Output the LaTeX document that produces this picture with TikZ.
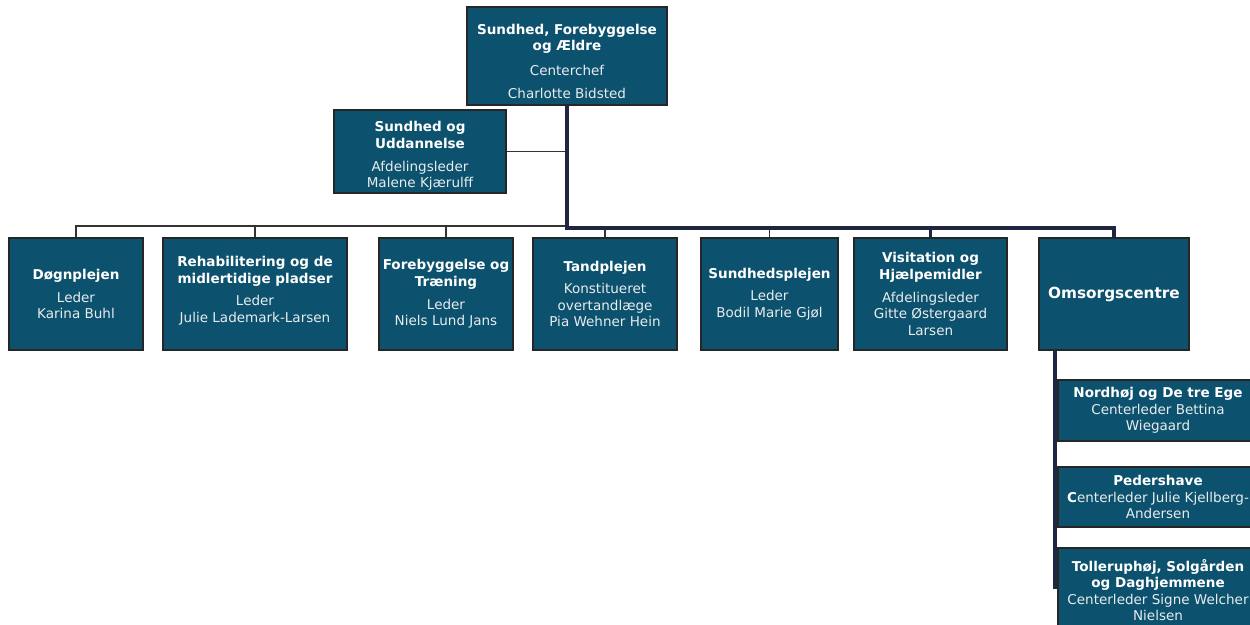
\documentclass[tikz,border=0pt]{standalone}
\usepackage{fontspec}
\setmainfont{DejaVu Sans}
\usetikzlibrary{positioning}
\definecolor{boxteal}{RGB}{12,81,109}
\definecolor{busnavy}{RGB}{30,38,64}
\definecolor{leadgrey}{RGB}{232,236,238}
\newcommand{\hd}[1]{\textbf{\color{white}#1}}

\begin{document}
\begin{tikzpicture}[x=0.02cm,y=-0.02cm,
	orgbox/.style={draw=black!85,line width=0.7pt,fill=boxteal,text=leadgrey,
		align=center,inner sep=1pt,font=\fontsize{7.7}{9.4}\selectfont},
	boxsize/.style 2 args={minimum width=#1*0.02cm,minimum height=#2*0.02cm},
	thinline/.style={draw=black!80,line width=0.8pt},
	thickline/.style={draw=busnavy,line width=2pt}]
\useasboundingbox (0,0) rectangle (1250,625);
\clip (0,0) rectangle (1250,625);

% top level
\node[orgbox,boxsize={200}{98}] (chef) at (567,56)
	{\rule{0pt}{12pt}\hd{Sundhed, Forebyggelse}\\\hd{og Ældre}\\[4.5pt] Centerchef\\[4pt] Charlotte Bidsted};
\node[orgbox,boxsize={172}{83}] (uddan) at (420,151.5)
	{\rule{0pt}{11pt}\hd{Sundhed og}\\\hd{Uddannelse}\\[3.5pt] Afdelingsleder\\ Malene Kjærulff};

% second row
\node[orgbox,boxsize={134}{112}] (doegn) at (76,294)
	{\hd{Døgnplejen}\\[3.5pt] Leder\\ Karina Buhl};
\node[orgbox,boxsize={184}{112}] (rehab) at (255,294)
	{\hd{Rehabilitering og de}\\\hd{midlertidige pladser}\\[3.5pt] Leder\\ Julie Lademark-Larsen\\[-4pt]};
\node[orgbox,boxsize={134}{112}] (forebyg) at (446,294)
	{\hd{Forebyggelse og}\\\hd{Træning}\\[3.5pt] Leder\\ Niels Lund Jans};
\node[orgbox,boxsize={144}{112}] (tand) at (605,294)
	{\hd{Tandplejen}\\[3.5pt] Konstitueret\\ overtandlæge\\ Pia Wehner Hein};
\node[orgbox,boxsize={137}{112}] (sundpl) at (769.5,294)
	{\hd{Sundhedsplejen}\\[3.5pt] Leder\\ Bodil Marie Gjøl};
\node[orgbox,boxsize={153}{112}] (visit) at (930.5,294)
	{\hd{Visitation og}\\\hd{Hjælpemidler}\\[3.5pt] Afdelingsleder\\ Gitte Østergaard\\ Larsen};
\node[orgbox,boxsize={150}{112},font=\fontsize{8.7}{10}\selectfont] (omsorg) at (1114,294)
	{\hd{Omsorgscentre}};

% omsorgscentre
\node[orgbox,boxsize={200}{61}] (nord) at (1158,410.5)
	{\hd{Nordhøj og De tre Ege}\\ Centerleder Bettina\\ Wiegaard};
\node[orgbox,boxsize={200}{60}] (peder) at (1158,497)
	{\hd{Pedershave}\\ \hd{C}enterleder Julie Kjellberg-\\ Andersen};
\node[orgbox,boxsize={200}{84}] (toller) at (1158,590)
	{\hd{Tolleruphøj, Solgården}\\\hd{og Daghjemmene}\\ Centerleder Signe Welcher\\ Nielsen};

% connectors
\coordinate (bus) at (567,226);
\coordinate (spine) at (1055,589);
\draw[thinline] (uddan.east) -- (uddan.east -| bus);
\draw[thinline] (doegn.north) |- (bus);
\draw[thinline] (rehab.north) -- (rehab.north |- bus);
\draw[thinline] (forebyg.north) -- (forebyg.north |- bus);
\draw[thinline] (tand.north) -- (tand.north |- bus);
\draw[thinline] (sundpl.north) -- (sundpl.north |- bus);
\draw[thickline,line width=1.5pt] (visit.north) -- ([yshift=-1pt]visit.north |- bus);
\draw[thickline] (chef.south) -- ([yshift=-1pt]bus) -| (omsorg.north);
\draw[thickline,line width=2.6pt] (spine |- omsorg.south) -- (spine);
\end{tikzpicture}
\end{document}
